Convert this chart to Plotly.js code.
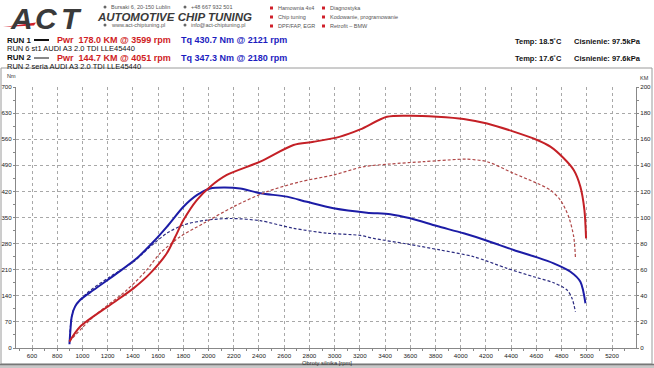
<!DOCTYPE html>
<html>
<head>
<meta charset="utf-8">
<script src="https://cdn.plot.ly/plotly-3.0.1.min.js"></script>
<style>
html,body{margin:0;padding:0;background:#fff;}
#chart{width:654px;height:368px;}
</style>
</head>
<body>
<div id="chart"></div>
<script>
// ---- data ----
var run1PwrRpm = [897, 981, 1219, 1404, 1537, 1669, 1735, 1801, 1907, 2013, 2145, 2410, 2674, 2833, 3044, 3203, 3415, 3599, 3812, 4023, 4209, 4420, 4606, 4711, 4817, 4896, 4949, 4981, 4994];
var run1Pwr    = [5, 16.3, 33, 45.7, 57.2, 72.6, 85, 98, 113.4, 123.6, 132.6, 142.8, 155.6, 158, 162, 167.5, 177.2, 178.0, 177.2, 175.5, 172, 165.8, 159.4, 154.3, 145.4, 136.4, 123.6, 105.7, 84];

var run1TqRpm = [897, 905, 915, 941, 981, 1087, 1272, 1431, 1563, 1669, 1801, 1907, 2013, 2121, 2251, 2410, 2621, 2780, 2991, 3256, 3441, 3600, 3812, 4023, 4209, 4420, 4606, 4737, 4870, 4949, 4989];
var run1Tq    = [10, 50, 84, 111, 128.7, 155.5, 200, 240.5, 285, 325, 379, 410, 428, 430.7, 428, 415, 406, 392, 374.6, 363, 359, 347.8, 327, 307.6, 287.8, 262.8, 243, 227, 204.6, 177.8, 120];

var run2PwrRpm = [897, 1087, 1352, 1510, 1616, 1775, 1960, 2198, 2463, 2727, 2991, 3229, 3441, 3706, 3971, 4051, 4209, 4420, 4606, 4711, 4790, 4856, 4896, 4910];
var run2Pwr    = [5, 24, 44.4, 59.8, 72.6, 85.3, 95.5, 108.3, 119.8, 127.4, 132.6, 138.9, 141, 142.8, 144.5, 144.7, 142.8, 133.8, 126.2, 121, 113.4, 100.6, 85.3, 68.7];

var run2TqRpm = [897, 928, 1034, 1219, 1404, 1537, 1669, 1801, 1986, 2180, 2410, 2674, 2938, 3203, 3309, 3574, 3838, 4103, 4367, 4579, 4737, 4843, 4883, 4910];
var run2Tq    = [15, 102, 146.7, 191, 231, 271.6, 307.6, 330, 343, 347.3, 341.4, 321, 308, 302, 294, 279, 262.8, 244.8, 213.7, 191, 175, 155.5, 133, 97];

var run1Label = "RUN 1", run2Label = "RUN 2";
var run1Desc = "RUN 6 st1 AUDI A3 2.0 TDI LLE45440";
var run2Desc = "RUN 2 seria AUDI A3 2.0 TDI LLE45440";
var run1PwrText = "Pwr  178.0 KM @ 3599 rpm", run2PwrText = "Pwr  144.7 KM @ 4051 rpm";
var run1TqText = "Tq 430.7 Nm @ 2121 rpm", run2TqText = "Tq 347.3 Nm @ 2180 rpm";
var run1Temp = "Temp: 18.5˚C", run2Temp = "Temp: 17.6˚C";
var run1Press = "Cisnienie: 97.5kPa", run2Press = "Cisnienie: 97.6kPa";
var xTitle = "Obroty silnika [rpm]";
var services1 = ["Hamownia 4x4", "Chip tuning", "DPF/FAP, EGR"];
var services2 = ["Diagnostyka", "Kodowanie, programowanie", "Retrofit – BMW"];
var contact = ["Bursaki 6, 20-150 Lublin", "+48 667 932 501", "www.act-chiptuning.pl", "info@act-chiptuning.pl"];

// ---- layout helpers (pixel -> paper) ----
var W = 654, H = 368, ML = 16, MR = 18, MT = 87, MB = 20;
var PW = W - ML - MR, PH = H - MT - MB;
function px(x){ return (x - ML) / PW; }
function py(y){ return (H - MB - y) / PH; }

var RED = "#c42026", BLUE = "#1c1ca6", RED2 = "#b04848", BLUE2 = "#2c2c80";
var FONT = "Liberation Sans, Arial, sans-serif";

var traces = [
  {x: run2PwrRpm, y: run2Pwr, yaxis: "y2", mode: "lines", line: {color: RED2, width: 1.2, dash: "3px,2px", shape: "spline", smoothing: 0.8}, hoverinfo: "skip"},
  {x: run2TqRpm, y: run2Tq, mode: "lines", line: {color: BLUE2, width: 1.2, dash: "3px,2px", shape: "spline", smoothing: 0.8}, hoverinfo: "skip"},
  {x: run1PwrRpm, y: run1Pwr, yaxis: "y2", mode: "lines", line: {color: RED, width: 2, shape: "spline", smoothing: 0.8}, hoverinfo: "skip"},
  {x: run1TqRpm, y: run1Tq, mode: "lines", line: {color: BLUE, width: 2, shape: "spline", smoothing: 0.8}, hoverinfo: "skip"}
];

function txt(x, y, s, opt){
  opt = opt || {};
  return {xref: "paper", yref: "paper", x: px(x), y: py(y), text: s, showarrow: false,
    xanchor: opt.xa || "left", yanchor: "middle", borderpad: 0,
    font: {family: opt.family || FONT, size: opt.size || 8, color: opt.color || "#111",
           weight: opt.weight || "normal", style: opt.style || "normal"}};
}

var ann = [];
// logo
ann.push(txt(9, 18, "A", {size: 30, weight: "bold", style: "italic", color: "#3a3a3a"}));
ann.push(txt(34, 18, "C", {size: 30, weight: "bold", style: "italic", color: "#3a3a3a"}));
ann.push(txt(60, 18, "T", {size: 30, weight: "bold", style: "italic", color: "#3a3a3a"}));
ann.push(txt(96, 17, "AUTOMOTIVE CHIP TUNING", {size: 11.5, weight: "bold", style: "italic", color: "#3a3a3a"}));
ann.push(txt(110, 7, contact[0], {size: 5.5, color: "#555"}));
ann.push(txt(190, 7, contact[1], {size: 5.5, color: "#555"}));
ann.push(txt(110, 25, contact[2], {size: 5.5, color: "#555"}));
ann.push(txt(190, 25, contact[3], {size: 5.5, color: "#555"}));
for (var i = 0; i < 3; i++){
  ann.push(txt(277, 8 + i * 9, services1[i], {size: 5.5, color: "#555"}));
  ann.push(txt(329, 8 + i * 9, services2[i], {size: 5.5, color: "#555"}));
}
// run info
ann.push(txt(6, 40, run1Label, {size: 8, weight: "bold"}));
ann.push(txt(6, 48.5, run1Desc, {size: 7.5}));
ann.push(txt(6, 58, run2Label, {size: 8, weight: "bold"}));
ann.push(txt(6, 66, run2Desc, {size: 7.5}));
ann.push(txt(56, 40, run1PwrText, {size: 9, weight: "bold", color: "#d01c24"}));
ann.push(txt(56, 58, run2PwrText, {size: 9, weight: "bold", color: "#d01c24"}));
ann.push(txt(180, 40, run1TqText, {size: 9, weight: "bold", color: "#1c1cc0"}));
ann.push(txt(180, 58, run2TqText, {size: 9, weight: "bold", color: "#1c1cc0"}));
ann.push(txt(514, 41.5, run1Temp, {size: 7.5, weight: "bold"}));
ann.push(txt(573, 41.5, run1Press, {size: 7.5, weight: "bold"}));
ann.push(txt(514, 58.5, run2Temp, {size: 7.5, weight: "bold"}));
ann.push(txt(573, 58.5, run2Press, {size: 7.5, weight: "bold"}));
// axis unit labels
ann.push(txt(6, 76, "Nm", {size: 5.5, color: "#333"}));
ann.push(txt(639, 78, "KM", {size: 5.5, color: "#333"}));
ann.push(txt(327, 362.5, xTitle, {size: 5.8, color: "#333", xa: "center"}));

var shapes = [];
function rect(x0, y0, x1, y1, fill, line, lw){
  shapes.push({type: "rect", xref: "paper", yref: "paper", x0: px(x0), x1: px(x1), y0: py(y1), y1: py(y0),
    fillcolor: fill || "rgba(0,0,0,0)", line: {color: line || "rgba(0,0,0,0)", width: lw || 0}, layer: "below"});
}
function seg(x0, y0, x1, y1, color, w, dash){
  shapes.push({type: "line", xref: "paper", yref: "paper", x0: px(x0), x1: px(x1), y0: py(y0), y1: py(y1),
    line: {color: color, width: w, dash: dash || "solid"}});
}
// frame
rect(1, 68, 652, 364, null, "#9a9a9a", 1);
rect(0, 364, 654, 368, "#c8c8c8", "#888", 0);
seg(0, 364.5, 654, 364.5, "#777", 1.5);
// legend line samples
seg(34, 40, 49, 40, "#111", 2);
seg(34, 58, 49, 58, "#111", 1);
// red bullets
for (var j = 0; j < 3; j++){
  rect(270, 6.5 + j * 9, 273, 9.5 + j * 9, "#d0202a", null, 0);
  rect(322, 6.5 + j * 9, 325, 9.5 + j * 9, "#d0202a", null, 0);
}
// small contact icons
[[105,7],[185,7],[105,25],[185,25]].forEach(function(p){
  shapes.push({type: "circle", xref: "paper", yref: "paper", x0: px(p[0]-1.5), x1: px(p[0]+1.5), y0: py(p[1]+1.5), y1: py(p[1]-1.5),
    fillcolor: "#666", line: {width: 0}});
});
// logo red swoosh
shapes.push({type: "path", xref: "paper", yref: "paper",
  path: "M " + px(3) + " " + py(27) + " L " + px(36) + " " + py(22.5) + " L " + px(34) + " " + py(25.5) + " Z",
  fillcolor: "#d0202a", line: {width: 0}});

var tickFont = {family: FONT, size: 6.2, color: "#222"};
var layout = {
  width: W, height: H,
  margin: {l: ML, r: MR, t: MT, b: MB, pad: 0},
  paper_bgcolor: "#fff", plot_bgcolor: "#fff",
  showlegend: false,
  font: {family: FONT},
  xaxis: {range: [473, 5390], tick0: 600, dtick: 200, tickmode: "linear",
    showgrid: true, gridcolor: "#a8a8a8", griddash: "dot", gridwidth: 1,
    showline: true, linecolor: "#888", linewidth: 1, mirror: false,
    ticks: "outside", ticklen: 2, tickcolor: "#888", tickfont: tickFont,
    minor: {dtick: 100, tick0: 500, ticklen: 2, tickcolor: "#888", showgrid: false},
    zeroline: false, fixedrange: true},
  yaxis: {range: [0, 700], dtick: 70, tick0: 0, tickmode: "linear",
    showgrid: true, gridcolor: "#a8a8a8", griddash: "dot", gridwidth: 1,
    showline: true, linecolor: "#888", linewidth: 1,
    ticks: "outside", ticklen: 2, tickcolor: "#888", tickfont: tickFont,
    minor: {dtick: 35, ticklen: 2, tickcolor: "#888", showgrid: false},
    zeroline: false, fixedrange: true},
  yaxis2: {range: [0, 200], dtick: 20, tick0: 0, tickmode: "linear", overlaying: "y", side: "right",
    showgrid: false, showline: true, linecolor: "#888", linewidth: 1,
    ticks: "outside", ticklen: 2, tickcolor: "#888", tickfont: tickFont,
    minor: {dtick: 10, ticklen: 2, tickcolor: "#888", showgrid: false},
    zeroline: false, fixedrange: true},
  annotations: ann,
  shapes: shapes
};

Plotly.newPlot("chart", traces, layout, {staticPlot: true, displayModeBar: false});
</script>
</body>
</html>
